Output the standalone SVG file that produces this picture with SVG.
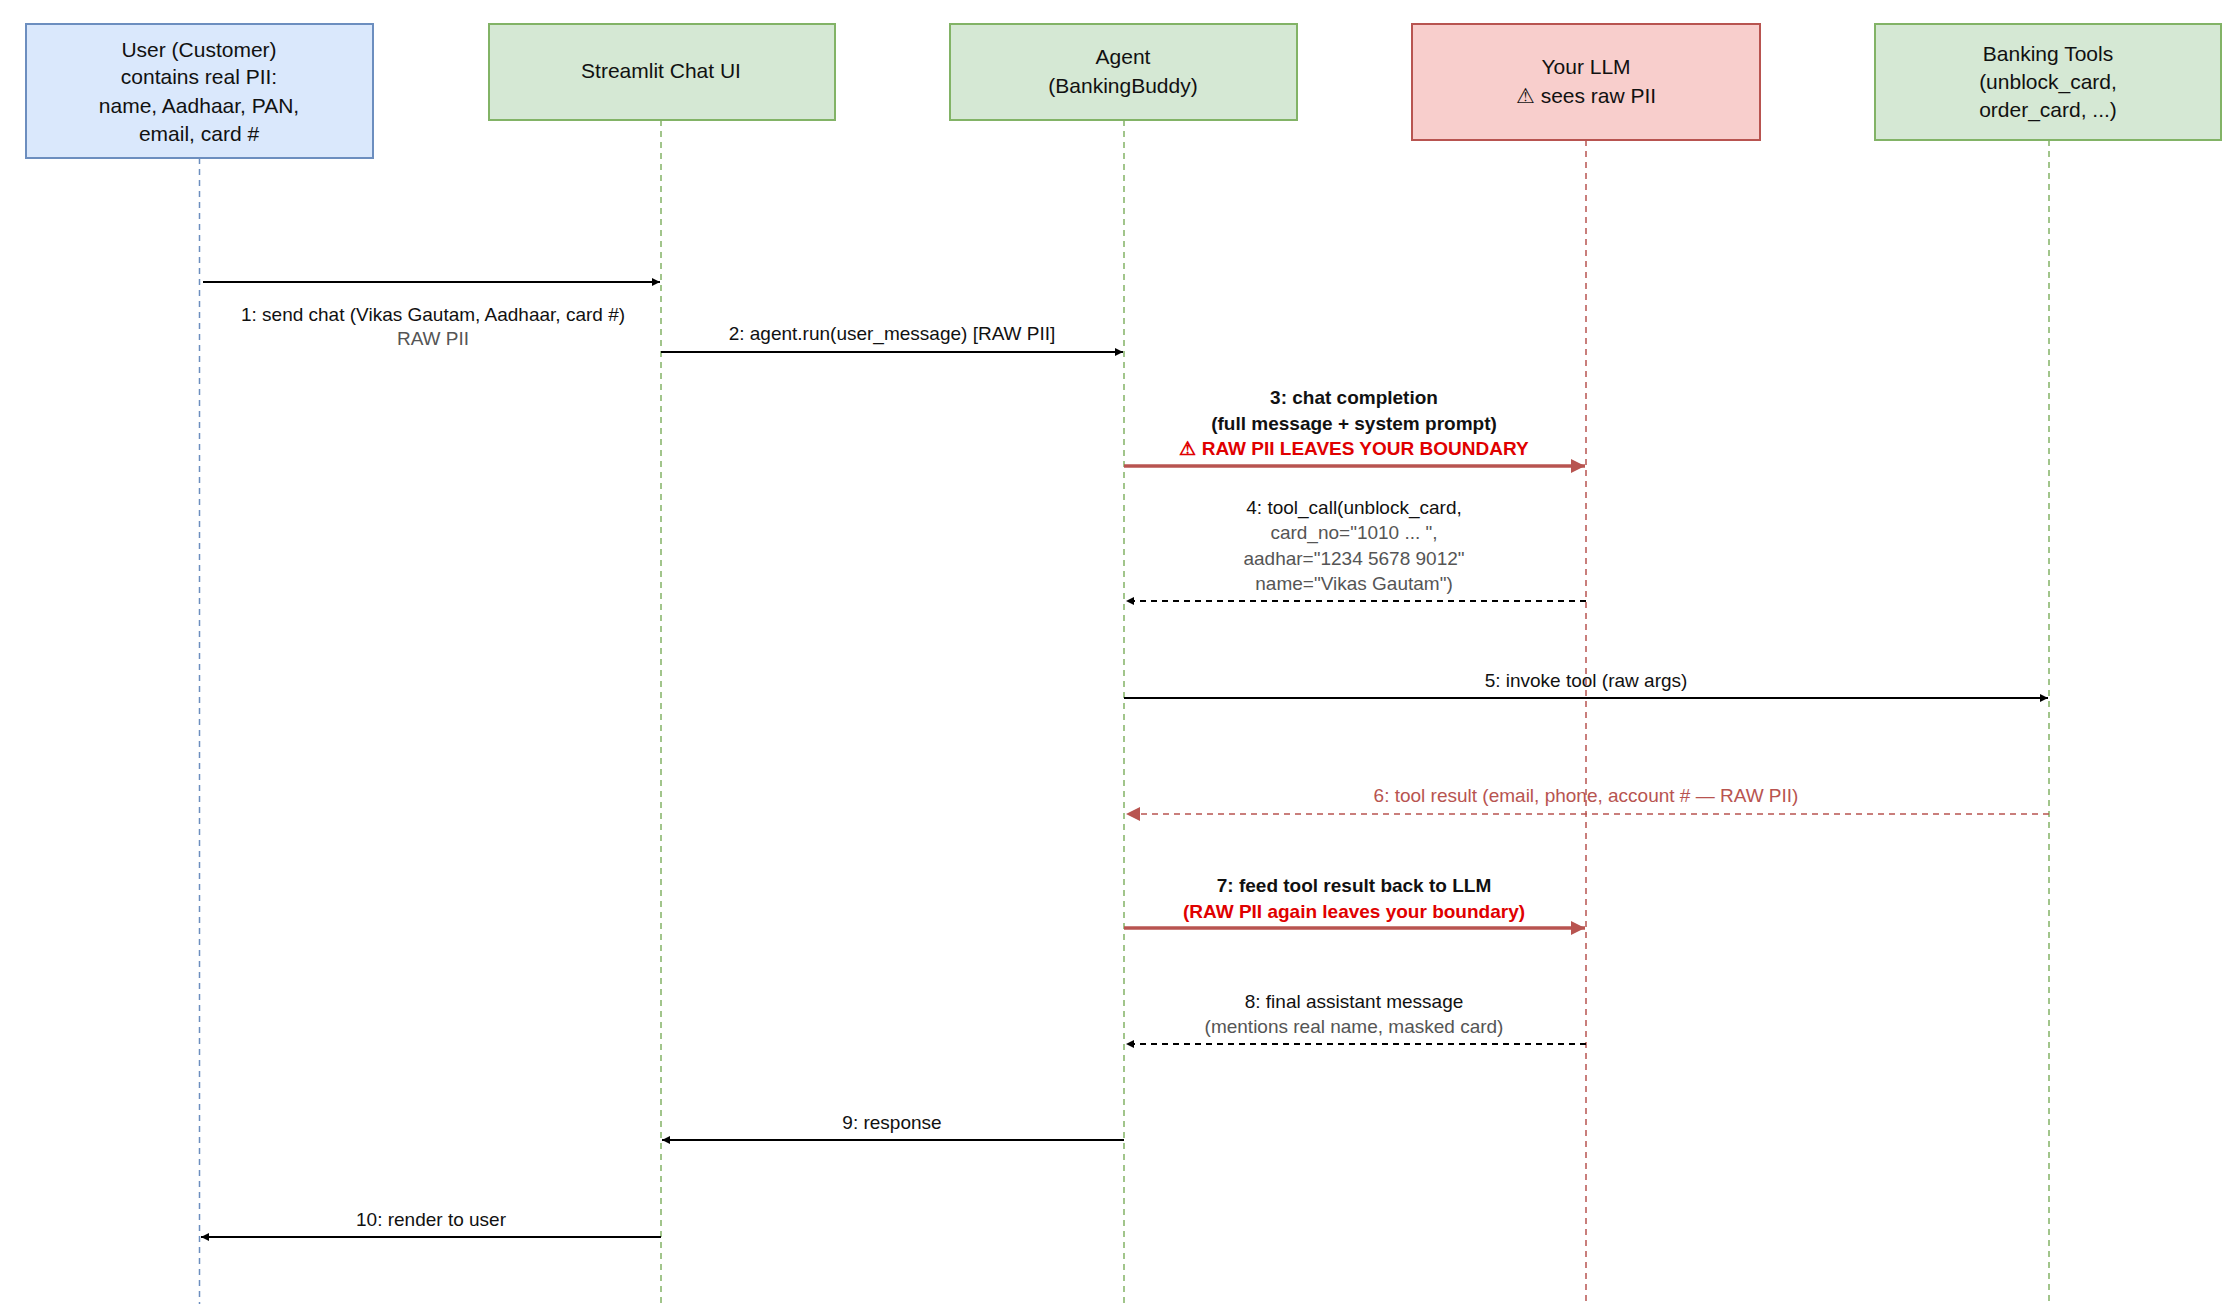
<svg xmlns="http://www.w3.org/2000/svg" width="2234" height="1307" viewBox="0 0 2234 1307">
<style>
text{font-family:"Liberation Sans",Arial,sans-serif;text-anchor:middle}
.bt{font-size:21px;fill:#111}
.ml{font-size:19px;fill:#111}
.gr{fill:#555}
.b{font-weight:bold}
.red{fill:#e00000}
.life{stroke-width:1.5;stroke-dasharray:6 5;fill:none}
.msg{stroke:#000;stroke-width:2;fill:none}
.dash{stroke-dasharray:6 5}
.rmsg{stroke:#b85450;stroke-width:3.5;fill:none}
</style>
<defs>
<marker id="ab" viewBox="0 0 10 10" refX="10" refY="5" markerWidth="8" markerHeight="8" markerUnits="userSpaceOnUse" orient="auto"><path d="M0,0 L10,5 L0,10 z" fill="#000"/></marker>
<marker id="ar" viewBox="0 0 10 10" refX="10" refY="5" markerWidth="6" markerHeight="6" orient="auto"><path d="M0,0 L10,5 L0,10 z" fill="#b85450"/></marker>
<marker id="ar2" viewBox="0 0 10 10" refX="10" refY="5" markerWidth="14" markerHeight="14" markerUnits="userSpaceOnUse" orient="auto"><path d="M0,0 L10,5 L0,10 z" fill="#b85450"/></marker>
</defs>
<rect width="2234" height="1307" fill="#fff"/>
<g id="user">
<rect x="26" y="24" width="347" height="134" fill="#dae8fc" stroke="#6c8ebf" stroke-width="2"/>
<text class="bt" x="199" y="57">User (Customer)</text>
<text class="bt" x="199" y="84">contains real PII:</text>
<text class="bt" x="199" y="113">name, Aadhaar, PAN,</text>
<text class="bt" x="199" y="141">email, card #</text>
<line class="life" x1="199.5" y1="158" x2="199.5" y2="1304" stroke="#6c8ebf"/>
</g>
<g id="ui">
<rect x="489" y="24" width="346" height="96" fill="#d5e8d4" stroke="#82b366" stroke-width="2"/>
<text class="bt" x="661" y="78">Streamlit Chat UI</text>
<line class="life" x1="661" y1="120" x2="661" y2="1304" stroke="#82b366"/>
</g>
<g id="agent">
<rect x="950" y="24" width="347" height="96" fill="#d5e8d4" stroke="#82b366" stroke-width="2"/>
<text class="bt" x="1123" y="64">Agent</text>
<text class="bt" x="1123" y="93">(BankingBuddy)</text>
<line class="life" x1="1124" y1="120" x2="1124" y2="1304" stroke="#82b366"/>
</g>
<g id="llm">
<rect x="1412" y="24" width="348" height="116" fill="#f8cecc" stroke="#b85450" stroke-width="2"/>
<text class="bt" x="1586" y="74">Your LLM</text>
<text class="bt" x="1586" y="103">⚠ sees raw PII</text>
<line class="life" x1="1586" y1="140" x2="1586" y2="1304" stroke="#b85450"/>
</g>
<g id="tools">
<rect x="1875" y="24" width="346" height="116" fill="#d5e8d4" stroke="#82b366" stroke-width="2"/>
<text class="bt" x="2048" y="61">Banking Tools</text>
<text class="bt" x="2048" y="89">(unblock_card,</text>
<text class="bt" x="2048" y="117">order_card, ...)</text>
<line class="life" x1="2049" y1="140" x2="2049" y2="1304" stroke="#82b366"/>
</g>
<g id="connectors">
<line class="msg" x1="203" y1="282" x2="660" y2="282" marker-end="url(#ab)"/>
<text class="ml" x="433" y="321">1: send chat (Vikas Gautam, Aadhaar, card #)</text>
<text class="ml gr" x="433" y="345">RAW PII</text>
<line class="msg" x1="661" y1="352" x2="1123" y2="352" marker-end="url(#ab)"/>
<text class="ml" x="892" y="340">2: agent.run(user_message) [RAW PII]</text>
<line class="rmsg" x1="1124" y1="466" x2="1585" y2="466" marker-end="url(#ar2)"/>
<text class="ml b" x="1354" y="404">3: chat completion</text>
<text class="ml b" x="1354" y="430">(full message + system prompt)</text>
<text class="ml b red" x="1354" y="455">⚠ RAW PII LEAVES YOUR BOUNDARY</text>
<line class="msg dash" x1="1586" y1="601" x2="1126" y2="601" marker-end="url(#ab)"/>
<text class="ml" x="1354" y="514">4: tool_call(unblock_card,</text>
<text class="ml gr" x="1354" y="539">card_no="1010 ... ",</text>
<text class="ml gr" x="1354" y="565">aadhar="1234 5678 9012"</text>
<text class="ml gr" x="1354" y="590">name="Vikas Gautam")</text>
<line class="msg" x1="1124" y1="698" x2="2048" y2="698" marker-end="url(#ab)"/>
<text class="ml" x="1586" y="687">5: invoke tool (raw args)</text>
<line x1="2049" y1="814" x2="1126" y2="814" stroke="#b85450" stroke-width="1.5" stroke-dasharray="6 5" marker-end="url(#ar2)"/>
<text class="ml" x="1586" y="802" fill="#b85450" style="fill:#b85450">6: tool result (email, phone, account # — RAW PII)</text>
<line class="rmsg" x1="1124" y1="928" x2="1585" y2="928" marker-end="url(#ar2)"/>
<text class="ml b" x="1354" y="892">7: feed tool result back to LLM</text>
<text class="ml b red" x="1354" y="918">(RAW PII again leaves your boundary)</text>
<line class="msg dash" x1="1586" y1="1044" x2="1126" y2="1044" marker-end="url(#ab)"/>
<text class="ml" x="1354" y="1008">8: final assistant message</text>
<text class="ml gr" x="1354" y="1033">(mentions real name, masked card)</text>
<line class="msg" x1="1124" y1="1140" x2="662" y2="1140" marker-end="url(#ab)"/>
<text class="ml" x="892" y="1129">9: response</text>
<line class="msg" x1="661" y1="1237" x2="201" y2="1237" marker-end="url(#ab)"/>
<text class="ml" x="431" y="1226">10: render to user</text>
</g>
</svg>
